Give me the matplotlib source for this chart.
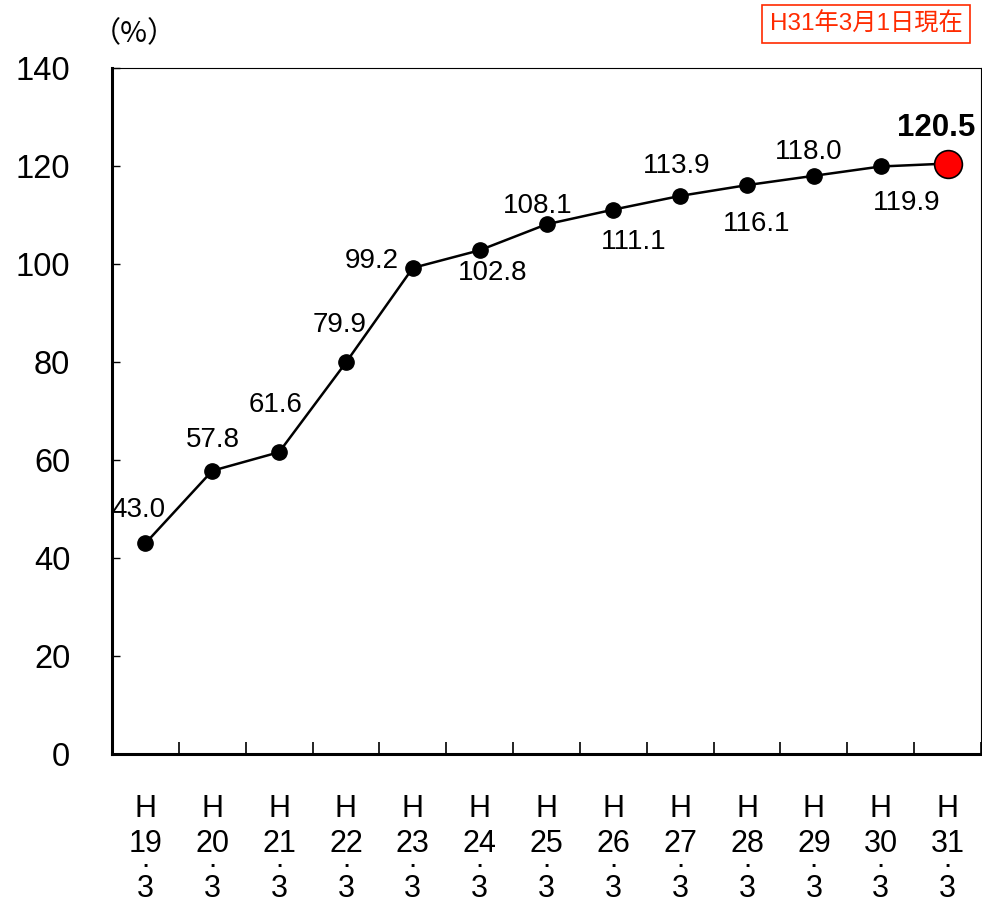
import matplotlib
matplotlib.use('Agg')
import matplotlib.pyplot as plt

plt.rcParams['font.family'] = ['Liberation Sans', 'Noto Sans CJK JP', 'DejaVu Sans']

# data
era = ['H'] * 13
years = ['19', '20', '21', '22', '23', '24', '25', '26', '27', '28', '29', '30', '31']
month = ['3'] * 13
values = [43.0, 57.8, 61.6, 79.9, 99.2, 102.8, 108.1, 111.1, 113.9, 116.1, 118.0, 119.9, 120.5]
note = 'H31年3月1日現在'
unit = '（%）'

# label offsets in pixels (dx, dy) from each point
label_off = [(-7, 33), (1, 31), (-4, 47), (-6, 37), (-41, 7), (13, -23), (-9, 18),
             (20, -32), (-4, 30), (10, -39), (-5, 24), (26, -37), (-11, 36)]

fig = plt.figure(figsize=(9.82, 9.02), dpi=100)
ax = fig.add_axes([112 / 982, 148 / 902, 869 / 982, 686 / 902])

x = list(range(len(values)))
ax.plot(x[:-1], values[:-1], color='black', lw=1.8, marker='o', ms=11, zorder=3)
ax.plot(x[-2:], values[-2:], color='black', lw=1.8, zorder=3)
ax.plot(x[-1], values[-1], marker='o', ms=20, mfc='#ff0000', mec='black', mew=1.2, zorder=4)

for i, v in enumerate(values):
    last = i == len(values) - 1
    ax.annotate(f'{v:.1f}', (i, v), xytext=label_off[i], textcoords='offset pixels',
                ha='center', va='center', fontsize=22.5 if last else 20,
                fontweight='bold' if last else 'normal', zorder=5)

ax.set_xlim(-0.5, len(values) - 0.5)
ax.set_ylim(0, 140)
ax.set_yticks(range(0, 141, 20))
ax.set_xticks([i + 0.5 for i in range(-1, len(values))])
ax.set_xticklabels([])
ax.tick_params(axis='y', direction='in', length=6, width=1, labelsize=23.5, pad=30)
ax.tick_params(axis='x', direction='in', length=9, width=1.2)

for s in ['left', 'bottom']:
    ax.spines[s].set_linewidth(2.2)
for s in ['top', 'right']:
    ax.spines[s].set_linewidth(0.8)

# category labels stacked vertically
for i in x:
    for txt, off in [(era[i], -55), (years[i], -90), ('·', -112), (month[i], -135)]:
        ax.annotate(txt, (i, 0), xycoords=('data', 'axes fraction'), xytext=(0, off),
                    textcoords='offset pixels', ha='center', va='center', fontsize=22,
                    annotation_clip=False)

fig.text(134 / 982, 1 - 34 / 902, unit, ha='center', va='center', fontsize=21,
         family=['Noto Sans CJK JP', 'DejaVu Sans'])
fig.text(866 / 982, 1 - 24 / 902, note, ha='center', va='center', fontsize=17.5,
         color='#ff2a00',
         bbox=dict(boxstyle='square,pad=0.3', fc='white', ec='#ff2a00', lw=1.2))

fig.savefig('out.png', dpi=100)
